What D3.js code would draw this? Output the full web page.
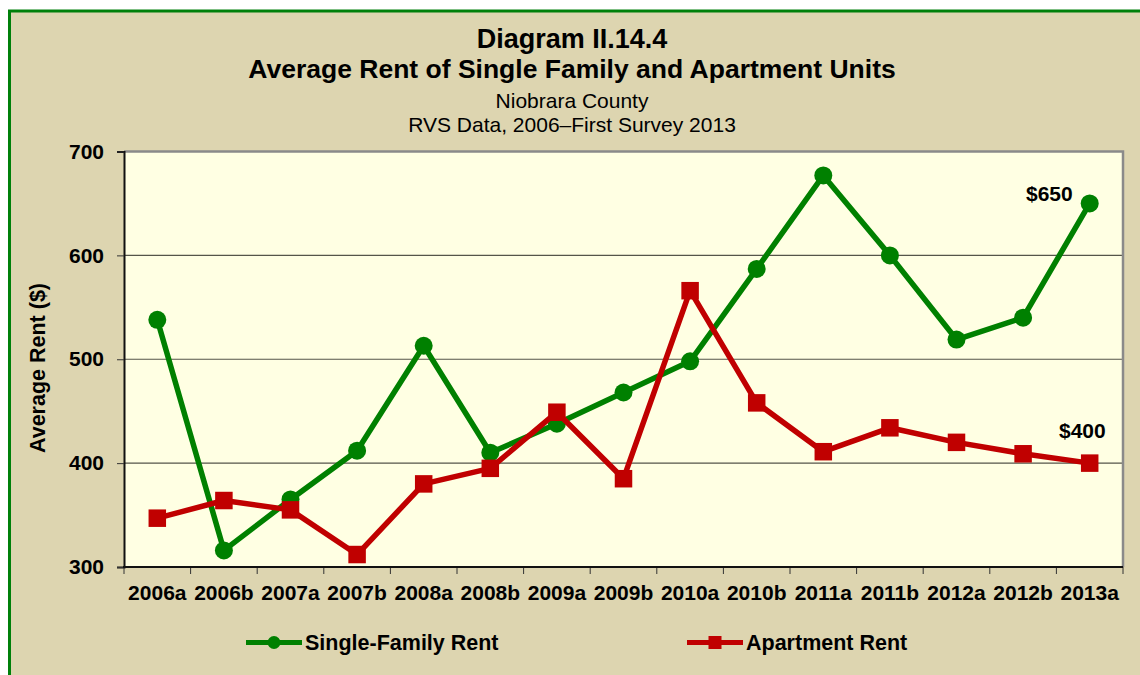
<!DOCTYPE html>
<html>
<head>
<meta charset="utf-8">
<script src="https://cdn.jsdelivr.net/npm/d3@7"></script>
<style>
    body { margin: 0; background: #ffffff; }
    svg { display: block; font-family: "Liberation Sans", Arial, sans-serif; }
</style>
</head>
<body>
<div id="chart"></div>
<script>
// chart data
const periods = ["2006a", "2006b", "2007a", "2007b", "2008a", "2008b", "2009a", "2009b",
    "2010a", "2010b", "2011a", "2011b", "2012a", "2012b", "2013a"];
const singleFamilyRent = [538, 316, 365, 412, 513, 410, 438, 468, 498, 587, 677, 600, 519, 540, 650];
const apartmentRent = [347, 364, 355, 312, 380, 395, 449, 385, 566, 458, 411, 434, 420, 409, 400];
const yTicks = [300, 400, 500, 600, 700];

const svgWidth = 1140;
const svgHeight = 675;
const plot = { left: 124, right: 1123, top: 151.5, bottom: 567 };

const green = "#008000";
const red = "#c00000";

const svg = d3.select("#chart")
    .append("svg")
    .attr("width", svgWidth)
    .attr("height", svgHeight);

// tan panel with green frame
svg.append("rect")
    .attr("x", 9.5)
    .attr("y", 11)
    .attr("width", 1300)
    .attr("height", 1000)
    .attr("fill", "#ddd5b0")
    .attr("stroke", "#00800a")
    .attr("stroke-width", 3);

// titles
const titles = [
    { text: "Diagram II.14.4", y: 48, size: 27, weight: "bold" },
    { text: "Average Rent of Single Family and Apartment Units", y: 78, size: 26.5, weight: "bold" },
    { text: "Niobrara County", y: 108, size: 21, weight: "normal" },
    { text: "RVS Data, 2006\u2013First Survey 2013", y: 131.5, size: 21, weight: "normal" }
];
svg.selectAll(".title")
    .data(titles)
    .enter()
    .append("text")
    .attr("class", "title")
    .attr("x", 572)
    .attr("y", d => d.y)
    .attr("text-anchor", "middle")
    .attr("font-size", d => d.size + "px")
    .attr("font-weight", d => d.weight)
    .text(d => d.text);

// scales
const x = d3.scaleBand()
    .domain(periods)
    .range([plot.left, plot.right]);

const y = d3.scaleLinear()
    .domain([300, 700])
    .range([plot.bottom, plot.top]);

const cx = d => x(d) + x.bandwidth() / 2;

// plot background
svg.append("rect")
    .attr("x", plot.left)
    .attr("y", plot.top)
    .attr("width", plot.right - plot.left)
    .attr("height", plot.bottom - plot.top)
    .attr("fill", "#ffffe3");

// gridlines
svg.append("g")
    .selectAll("line")
    .data(yTicks.slice(1, -1))
    .enter()
    .append("line")
    .attr("x1", plot.left)
    .attr("x2", plot.right)
    .attr("y1", d => y(d))
    .attr("y2", d => y(d))
    .attr("stroke", "#55554a")
    .attr("stroke-width", 1.2);

// gray top and right border of the plot
svg.append("path")
    .attr("d", `M${plot.left},${plot.top}H${plot.right}V${plot.bottom}`)
    .attr("fill", "none")
    .attr("stroke", "#8a8a8a")
    .attr("stroke-width", 2.5);

// y axis
const yAxis = svg.append("g")
    .attr("transform", `translate(${plot.left},0)`)
    .call(d3.axisLeft(y).tickValues(yTicks).tickSize(7).tickPadding(13).tickFormat(d3.format("d")));
yAxis.select(".domain").attr("stroke", "#111").attr("stroke-width", 2);
yAxis.selectAll(".tick line").attr("stroke", "#333");
yAxis.selectAll("text")
    .attr("font-size", "21px")
    .attr("font-weight", "bold")
    .attr("font-family", "Liberation Sans, Arial, sans-serif")
    .attr("fill", "#000");

// x axis: labels in band centres, tick marks on band edges
const xAxis = svg.append("g")
    .attr("transform", `translate(0,${plot.bottom})`)
    .call(d3.axisBottom(x).tickSize(0).tickPadding(18));
xAxis.select(".domain").remove();
xAxis.selectAll("text")
    .attr("font-size", "21px")
    .attr("font-weight", "bold")
    .attr("font-family", "Liberation Sans, Arial, sans-serif")
    .attr("fill", "#000");

const edges = periods.map(d => x(d)).concat([plot.right]);
svg.append("g")
    .selectAll("line")
    .data(edges)
    .enter()
    .append("line")
    .attr("x1", d => d)
    .attr("x2", d => d)
    .attr("y1", plot.bottom)
    .attr("y2", plot.bottom + 7)
    .attr("stroke", "#333");

svg.append("line")
    .attr("x1", plot.left - 1)
    .attr("x2", plot.right)
    .attr("y1", plot.bottom)
    .attr("y2", plot.bottom)
    .attr("stroke", "#111")
    .attr("stroke-width", 2);

// y axis title
svg.append("text")
    .attr("transform", `translate(45,368) rotate(-90)`)
    .attr("text-anchor", "middle")
    .attr("font-size", "21.5px")
    .attr("font-weight", "bold")
    .text("Average Rent ($)");

// lines
const line = d3.line()
    .x(d => cx(d[0]))
    .y(d => y(d[1]));

const sfData = d3.zip(periods, singleFamilyRent);
const aptData = d3.zip(periods, apartmentRent);

svg.append("path")
    .datum(sfData)
    .attr("d", line)
    .attr("fill", "none")
    .attr("stroke", green)
    .attr("stroke-width", 5.5)
    .attr("stroke-linejoin", "round");

svg.append("g")
    .selectAll("circle")
    .data(sfData)
    .enter()
    .append("circle")
    .attr("cx", d => cx(d[0]))
    .attr("cy", d => y(d[1]))
    .attr("r", 9)
    .attr("fill", green);

svg.append("path")
    .datum(aptData)
    .attr("d", line)
    .attr("fill", "none")
    .attr("stroke", red)
    .attr("stroke-width", 5.5)
    .attr("stroke-linejoin", "round");

const sq = 17.5;
svg.append("g")
    .selectAll("rect")
    .data(aptData)
    .enter()
    .append("rect")
    .attr("x", d => cx(d[0]) - sq / 2)
    .attr("y", d => y(d[1]) - sq / 2)
    .attr("width", sq)
    .attr("height", sq)
    .attr("fill", red);

// end value labels
const last = periods.length - 1;
svg.append("text")
    .attr("x", cx(periods[last]) - 17)
    .attr("y", y(singleFamilyRent[last]) - 2)
    .attr("text-anchor", "end")
    .attr("font-size", "21px")
    .attr("font-weight", "bold")
    .text("$" + singleFamilyRent[last]);

svg.append("text")
    .attr("x", cx(periods[last]) + 16)
    .attr("y", y(apartmentRent[last]) - 25)
    .attr("text-anchor", "end")
    .attr("font-size", "21px")
    .attr("font-weight", "bold")
    .text("$" + apartmentRent[last]);

// legend
const legendItems = [
    { name: "Single-Family Rent", color: green, shape: "circle", x: 246 },
    { name: "Apartment Rent", color: red, shape: "square", x: 687 }
];
const legendY = 642.5;
const legend = svg.selectAll(".legend")
    .data(legendItems)
    .enter()
    .append("g")
    .attr("class", "legend")
    .attr("transform", d => `translate(${d.x},${legendY})`);

legend.append("line")
    .attr("x1", 0)
    .attr("x2", 56)
    .attr("stroke", d => d.color)
    .attr("stroke-width", 5);

legend.filter(d => d.shape === "circle")
    .append("circle")
    .attr("cx", 28)
    .attr("r", 6.5)
    .attr("fill", d => d.color);

legend.filter(d => d.shape === "square")
    .append("rect")
    .attr("x", 21.5)
    .attr("y", -6.5)
    .attr("width", 13)
    .attr("height", 13)
    .attr("fill", d => d.color);

legend.append("text")
    .attr("x", 59)
    .attr("y", 7.5)
    .attr("font-size", "21.5px")
    .attr("font-weight", "bold")
    .text(d => d.name);
</script>
</body>
</html>
